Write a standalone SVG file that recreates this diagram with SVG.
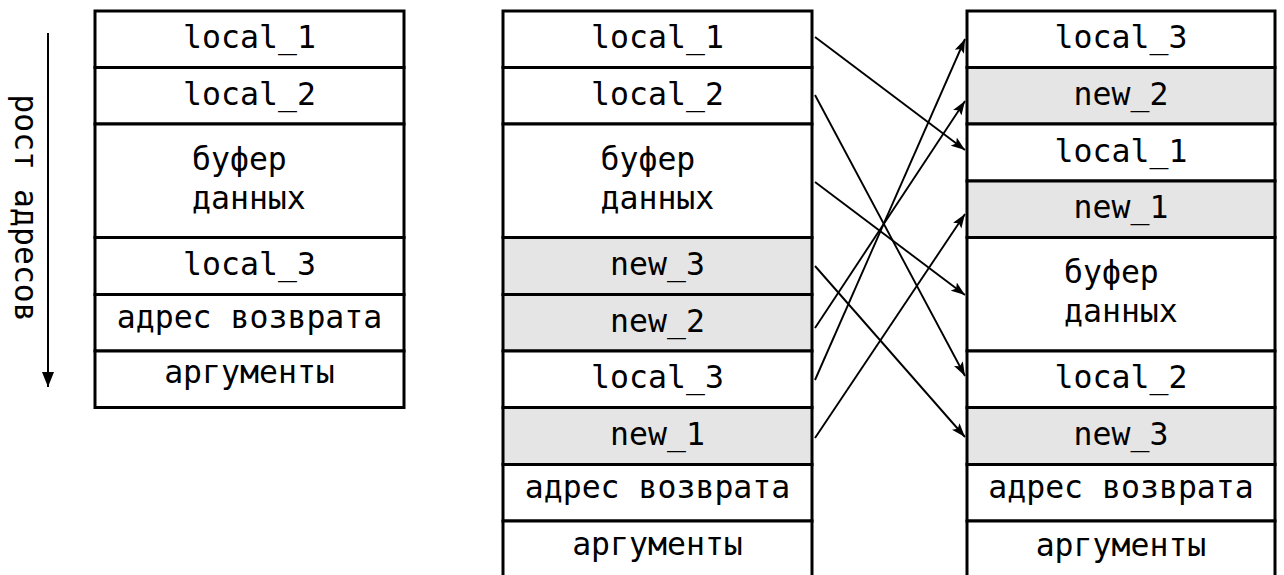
<svg xmlns="http://www.w3.org/2000/svg" width="1284" height="575" viewBox="0 0 1284 575">
  <defs>
    <marker id="head" markerUnits="userSpaceOnUse" markerWidth="15" markerHeight="11" refX="14" refY="5.5" orient="auto">
      <path d="M0,0.5 L14,5.5 L0,10.5 L3,5.5 Z" fill="#000"/>
    </marker>
    <marker id="headBig" markerUnits="userSpaceOnUse" markerWidth="16" markerHeight="12" refX="15" refY="6" orient="auto">
      <path d="M0,0 L15,6 L0,12 Z" fill="#000"/>
    </marker>
  </defs>
  <style>
    .cell { fill: #fff; stroke: #000; stroke-width: 3; }
    .new { fill: #e5e5e5; stroke: #000; stroke-width: 3; }
    text { font-family: "DejaVu Sans Mono", "Liberation Mono", monospace; font-size: 31.5px; fill: #000; }
    .c { text-anchor: middle; }
    .link { stroke: #000; stroke-width: 1.9; fill: none; marker-end: url(#head); }
  </style>
  <rect width="1284" height="575" fill="#fff"/>

  <!-- address growth direction -->
  <g id="growth">
    <line x1="48" y1="33" x2="48" y2="387" stroke="#000" stroke-width="2" marker-end="url(#headBig)"/>
    <text class="c" transform="translate(15,208) rotate(90)">рост адресов</text>
  </g>

  <!-- original frame -->
  <g id="frame-a">
    <g id="a-local1"><rect class="cell" x="95" y="11" width="309" height="56.5"/><text class="c" x="249.5" y="48">local_1</text></g>
    <g id="a-local2"><rect class="cell" x="95" y="67.5" width="309" height="56.5"/><text class="c" x="249.5" y="105">local_2</text></g>
    <g id="a-buf"><rect class="cell" x="95" y="124" width="309" height="113.5"/><text x="192" y="170">буфер</text><text x="192" y="209">данных</text></g>
    <g id="a-local3"><rect class="cell" x="95" y="237.5" width="309" height="57"/><text class="c" x="249.5" y="275">local_3</text></g>
    <g id="a-ret"><rect class="cell" x="95" y="294.5" width="309" height="56.5"/><text class="c" x="249.5" y="328">адрес возврата</text></g>
    <g id="a-args"><rect class="cell" x="95" y="351" width="309" height="56.5"/><text class="c" x="249.5" y="383">аргументы</text></g>
  </g>

  <!-- frame with new variables -->
  <g id="frame-b">
    <g id="b-local1"><rect class="cell" x="503" y="11" width="309" height="56.5"/><text class="c" x="657.5" y="48">local_1</text></g>
    <g id="b-local2"><rect class="cell" x="503" y="67.5" width="309" height="56.5"/><text class="c" x="657.5" y="105">local_2</text></g>
    <g id="b-buf"><rect class="cell" x="503" y="124" width="309" height="113.5"/><text x="600.5" y="170">буфер</text><text x="600.5" y="209">данных</text></g>
    <g id="b-new3"><rect class="new" x="503" y="237.5" width="309" height="57"/><text class="c" x="657.5" y="275">new_3</text></g>
    <g id="b-new2"><rect class="new" x="503" y="294.5" width="309" height="56.5"/><text class="c" x="657.5" y="332">new_2</text></g>
    <g id="b-local3"><rect class="cell" x="503" y="351" width="309" height="56.5"/><text class="c" x="657.5" y="388">local_3</text></g>
    <g id="b-new1"><rect class="new" x="503" y="407.5" width="309" height="57"/><text class="c" x="657.5" y="445">new_1</text></g>
    <g id="b-ret"><rect class="cell" x="503" y="464.5" width="309" height="56.5"/><text class="c" x="657.5" y="498">адрес возврата</text></g>
    <g id="b-args"><rect class="cell" x="503" y="521" width="309" height="70"/><text class="c" x="657.5" y="555">аргументы</text></g>
  </g>

  <!-- reordered frame -->
  <g id="frame-c">
    <g id="c-local3"><rect class="cell" x="967" y="11" width="308" height="56.5"/><text class="c" x="1121" y="48">local_3</text></g>
    <g id="c-new2"><rect class="new" x="967" y="67.5" width="308" height="56.5"/><text class="c" x="1121" y="105">new_2</text></g>
    <g id="c-local1"><rect class="cell" x="967" y="124" width="308" height="57"/><text class="c" x="1121" y="162">local_1</text></g>
    <g id="c-new1"><rect class="new" x="967" y="181" width="308" height="56.5"/><text class="c" x="1121" y="218">new_1</text></g>
    <g id="c-buf"><rect class="cell" x="967" y="237.5" width="308" height="113.5"/><text x="1064" y="283">буфер</text><text x="1064" y="322">данных</text></g>
    <g id="c-local2"><rect class="cell" x="967" y="351" width="308" height="56.5"/><text class="c" x="1121" y="388">local_2</text></g>
    <g id="c-new3"><rect class="new" x="967" y="407.5" width="308" height="57"/><text class="c" x="1121" y="445">new_3</text></g>
    <g id="c-ret"><rect class="cell" x="967" y="464.5" width="308" height="56.5"/><text class="c" x="1121" y="498">адрес возврата</text></g>
    <g id="c-args"><rect class="cell" x="967" y="521" width="308" height="70"/><text class="c" x="1121" y="556">аргументы</text></g>
  </g>

  <!-- moves from the middle frame to the reordered frame -->
  <g id="connectors">
    <line class="link" x1="815" y1="37" x2="965" y2="150"/>
    <line class="link" x1="815" y1="95" x2="965" y2="376"/>
    <line class="link" x1="815" y1="182" x2="965" y2="295"/>
    <line class="link" x1="815" y1="266" x2="965" y2="437"/>
    <line class="link" x1="815" y1="328" x2="965" y2="101"/>
    <line class="link" x1="815" y1="380" x2="965" y2="39"/>
    <line class="link" x1="815" y1="438" x2="965" y2="214"/>
  </g>
</svg>
